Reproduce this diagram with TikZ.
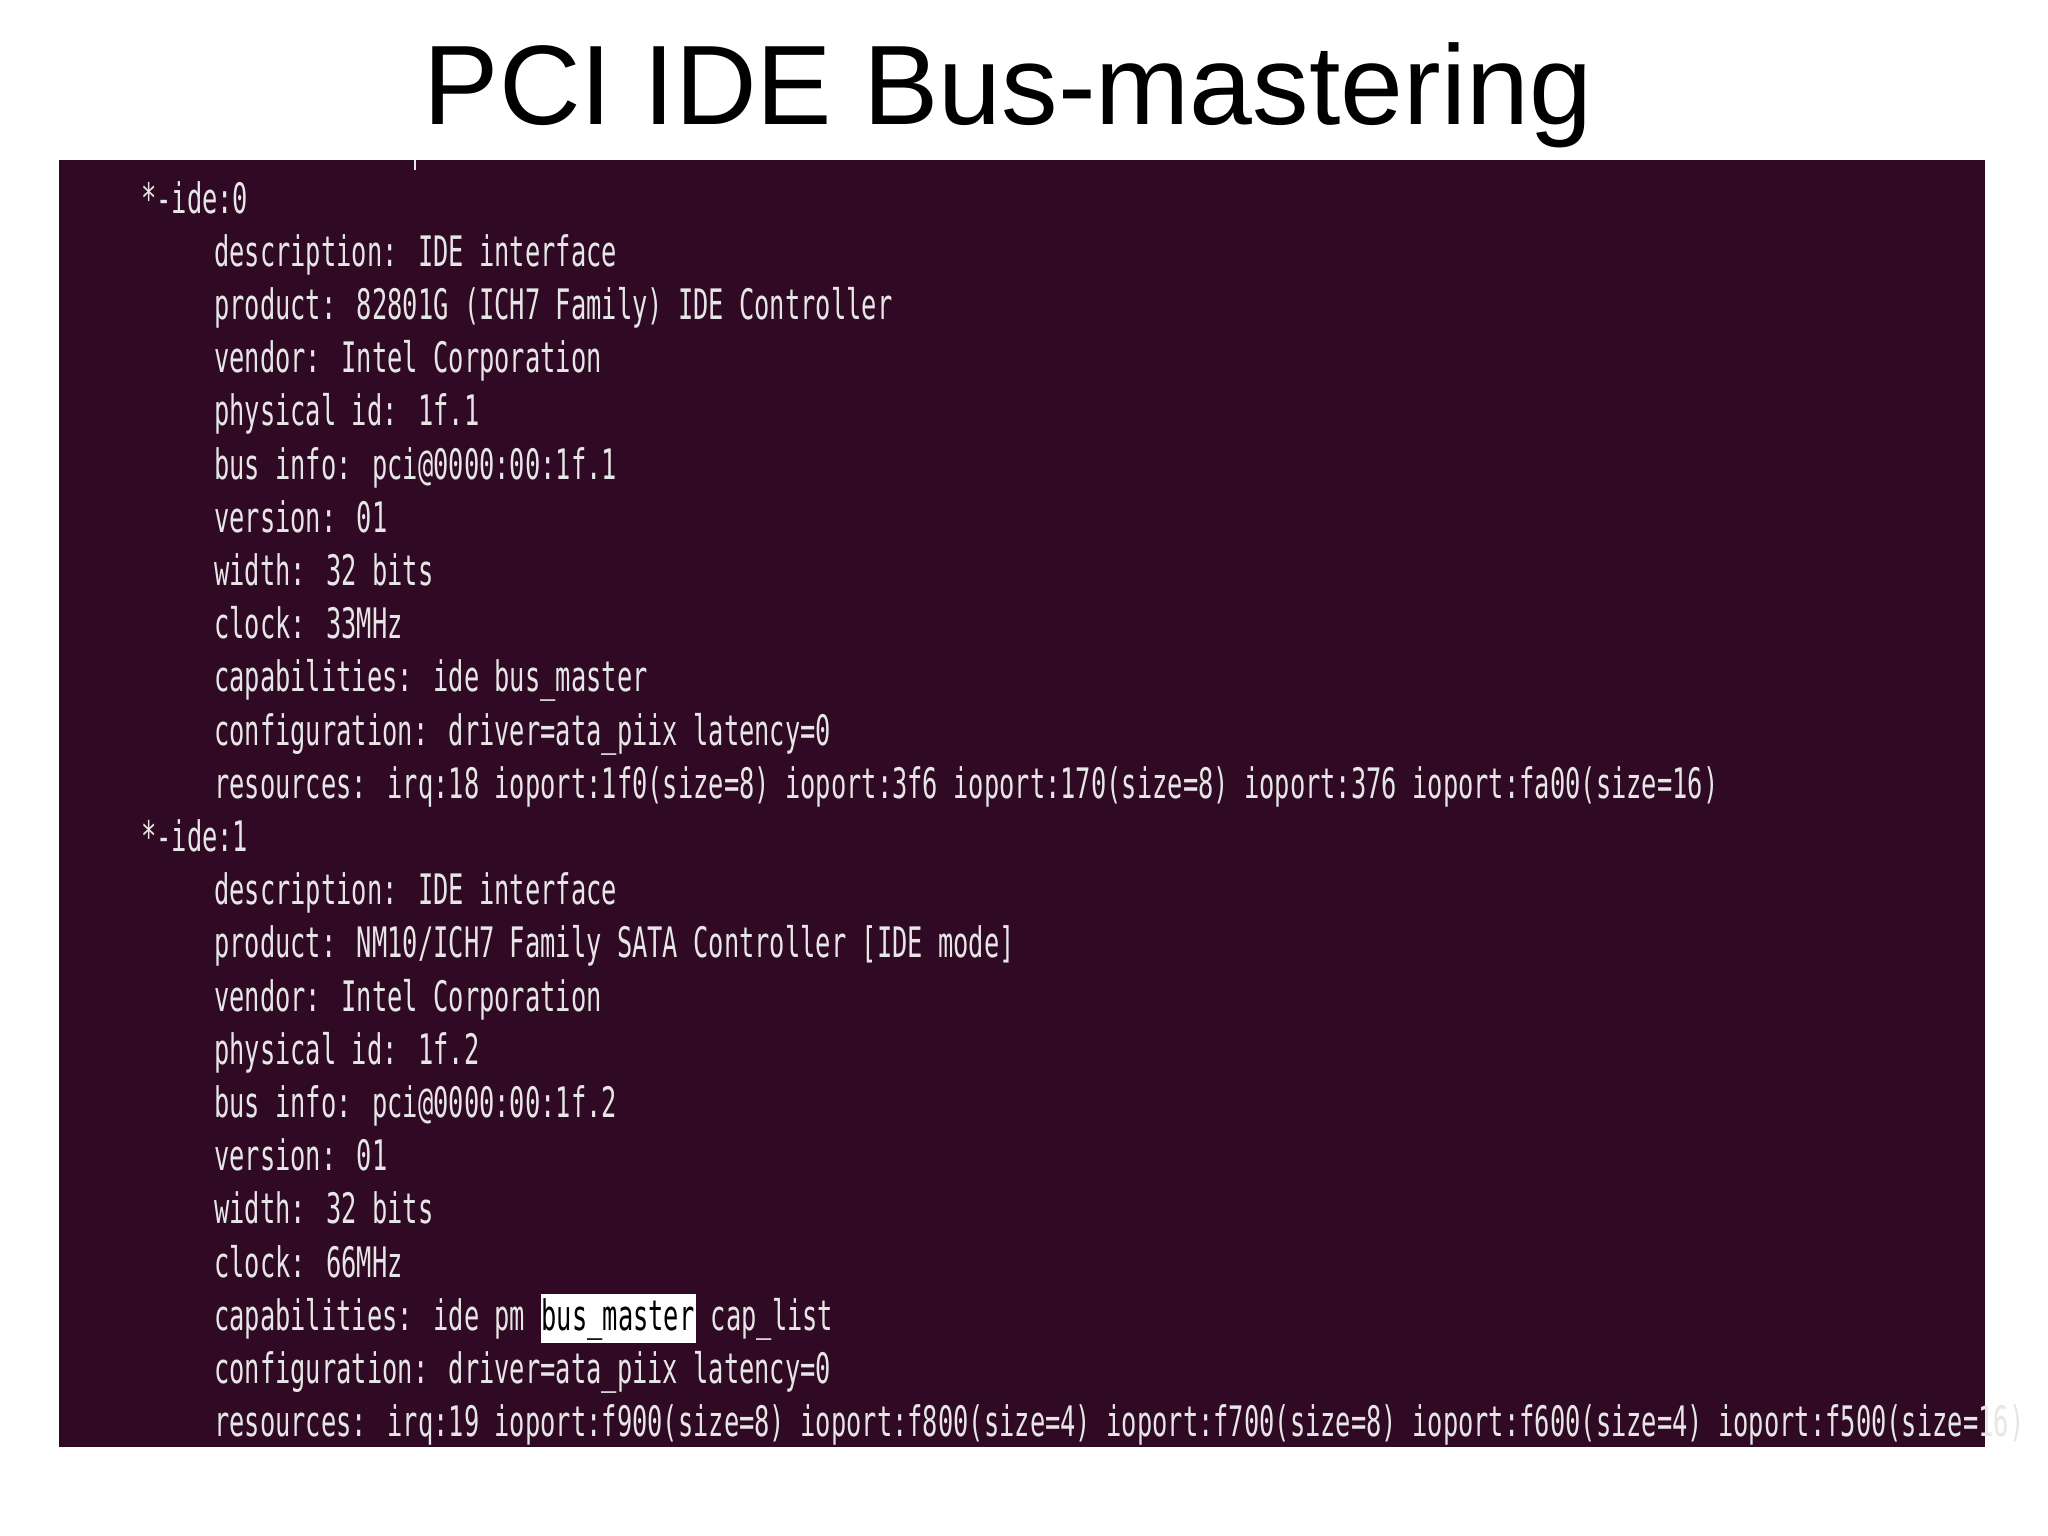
\documentclass[tikz,border=0pt]{standalone}
\usepackage{fontspec}
\setmainfont{Liberation Sans}
\newfontfamily\term[FakeStretch=0.605]{DejaVu Sans Mono}
\definecolor{termbg}{HTML}{300A24}
\definecolor{termfg}{HTML}{E6E6E6}
\begin{document}
\begin{tikzpicture}[x=1pt,y=-1pt,
  ln/.style={anchor=base west,inner sep=0pt,text=termfg,font=\term\fontsize{42}{42}\selectfont}]
\useasboundingbox (0,0) rectangle (2048,1535);
\fill[white] (0,0) rectangle (2048,1535);
\node[anchor=base,inner sep=0pt,font=\fontsize{113}{113}\selectfont] (title) at (1008,124) {PCI IDE Bus-mastering};
\fill[termbg] (59,160) rectangle (1985,1447);
\draw[termfg,line width=2pt] (415,160) -- (415,170);
\foreach \t [count=\i from 0] in {
 {*-ide:0},
 {description: IDE interface},
 {product: 82801G (ICH7 Family) IDE Controller},
 {vendor: Intel Corporation},
 {physical id: 1f.1},
 {bus info: pci@0000:00:1f.1},
 {version: 01},
 {width: 32 bits},
 {clock: 33MHz},
 {capabilities: ide bus\_master},
 {configuration: driver=ata\_piix latency=0},
 {resources: irq:18 ioport:1f0(size=8) ioport:3f6 ioport:170(size=8) ioport:376 ioport:fa00(size=16)},
 {*-ide:1},
 {description: IDE interface},
 {product: NM10/ICH7 Family SATA Controller [IDE mode]},
 {vendor: Intel Corporation},
 {physical id: 1f.2},
 {bus info: pci@0000:00:1f.2},
 {version: 01},
 {width: 32 bits},
 {clock: 66MHz},
 {capabilities: ide pm {\setlength{\fboxsep}{1pt}\colorbox{white}{\textcolor{black}{\rule[-12pt]{0pt}{47pt}bus\_master}}} cap\_list},
 {configuration: driver=ata\_piix latency=0},
 {resources: irq:19 ioport:f900(size=8) ioport:f800(size=4) ioport:f700(size=8) ioport:f600(size=4) ioport:f500(size=16)}}
 {\pgfmathsetmacro\xx{(\i==0 || \i==12) ? 141 : 214}
  \node[ln] (l\i) at (\xx,{213+53.2*\i}) {\t};}
\end{tikzpicture}
\end{document}
